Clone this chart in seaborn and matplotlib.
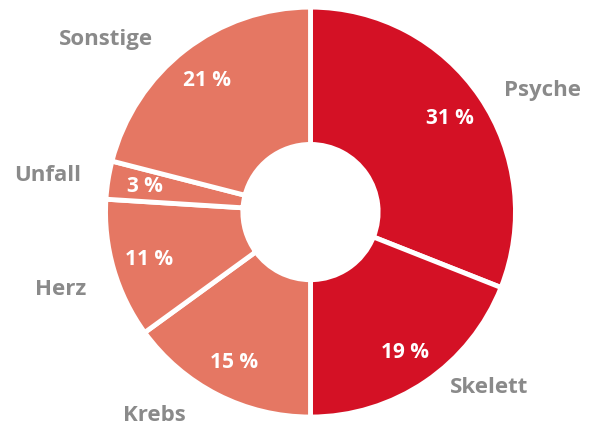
import seaborn as sns
import matplotlib.pyplot as plt

# data
categories = ["Psyche", "Skelett", "Krebs", "Herz", "Unfall", "Sonstige"]
shares = [31, 19, 15, 11, 3, 21]

# style
sns.set_theme(style="white")
plt.rcParams["font.family"] = ["Open Sans", "DejaVu Sans"]

dark_red = "#D41125"
salmon = "#E57763"
colors = [dark_red, dark_red, salmon, salmon, salmon, salmon]
label_grey = "#8A8A8A"

# label placement (layout only)
label_pos = [
    (1.13, 0.60),
    (0.87, -0.85),
    (-0.76, -0.99),
    (-1.22, -0.375),
    (-1.285, 0.185),
    (-1.00, 0.845),
]

fig = plt.figure(figsize=(5.97, 4.27), dpi=100)
ax = fig.add_axes([0.1767, 0.021, 0.6868, 0.960])

wedges, texts, autotexts = ax.pie(
    shares,
    labels=categories,
    colors=colors,
    startangle=90,
    counterclock=False,
    radius=1,
    autopct=lambda p: f"{round(p)} %",
    pctdistance=0.82,
    wedgeprops=dict(width=0.67, edgecolor="white", linewidth=3.5),
)

for t, pos in zip(texts, label_pos):
    t.set_position(pos)
    t.set_ha("center")
    t.set_va("center")
    t.set_color(label_grey)
    t.set_fontsize(16)
    t.set_fontweight("bold")

for t in autotexts:
    t.set_color("white")
    t.set_fontsize(15)
    t.set_fontweight("bold")

ax.set_xlim(-1, 1)
ax.set_ylim(-1, 1)
ax.set_aspect("equal")
ax.axis("off")

fig.savefig("out.png", dpi=100)
